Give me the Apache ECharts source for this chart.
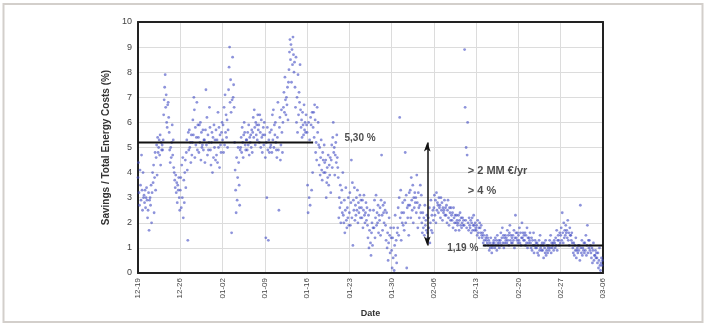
<!DOCTYPE html>
<html>
<head>
<meta charset="utf-8">
<script src="https://cdn.jsdelivr.net/npm/echarts@6/dist/echarts.min.js"></script>
<style>
  html, body { margin: 0; padding: 0; background: #fff; }
  #main { width: 707px; height: 325px; }
</style>
</head>
<body>
<div id="main"></div>
<script>
// week tick labels (one per 7 days)
const weekLabels = ['12-19', '12-26', '01-02', '01-09', '01-16', '01-23', '01-30', '02-06', '02-13', '02-20', '02-27', '03-06'];

// readings: one row per day, 12 samples per day (every 2 h)
const week1 = [
  [3.8, 4.4, 3.2, 2.7, 4.1, 3.5, 2.9, 4.7, 3.3, 2.5, 4.0, 3.0],
  [3.1, 2.8, 3.3, 2.6, 3.0, 3.4, 2.9, 2.2, 2.5, 3.2, 1.7, 2.9],
  [3.0, 2.7, 3.5, 2.0, 3.2, 4.0, 3.6, 4.3, 2.4, 3.8, 4.8, 3.3],
  [4.6, 5.1, 3.9, 5.4, 4.8, 5.0, 5.3, 4.7, 5.5, 4.3, 5.2, 4.9],
  [5.1, 4.9, 5.3, 6.3, 6.9, 7.4, 7.9, 6.6, 7.1, 6.0, 5.8, 6.7],
  [6.8, 6.2, 5.6, 4.9, 4.4, 5.0, 4.6, 5.2, 5.9, 4.7, 5.3, 4.2],
  [4.0, 3.7, 3.4, 3.9, 3.2, 3.6, 2.8, 3.5, 3.3, 3.8, 3.0, 2.5]
];
const week2 = [
  [3.3, 3.8, 2.6, 4.3, 3.0, 4.6, 2.2, 3.7, 2.8, 4.0, 4.5, 3.4],
  [4.8, 5.3, 4.1, 1.3, 5.6, 4.9, 5.7, 5.0, 5.2, 4.4, 5.5, 4.7],
  [5.2, 6.1, 5.5, 7.0, 6.5, 4.6, 5.8, 5.1, 5.4, 6.8, 4.9, 5.9],
  [5.4, 4.8, 5.9, 5.2, 6.0, 4.5, 5.6, 5.0, 5.1, 5.7, 4.9, 5.3],
  [5.3, 4.4, 5.7, 7.3, 5.1, 6.2, 4.7, 5.5, 4.9, 5.2, 6.6, 5.8],
  [4.9, 4.3, 5.2, 5.6, 4.0, 5.4, 4.6, 5.9, 5.0, 5.3, 4.5, 5.7],
  [4.7, 5.3, 4.4, 6.4, 5.0, 5.8, 4.2, 5.5, 5.1, 4.8, 5.6, 6.0]
];
const week3 = [
  [5.3, 5.9, 4.8, 6.6, 5.1, 7.1, 5.6, 6.3, 5.4, 6.1, 5.0, 5.7],
  [7.3, 8.2, 9.0, 6.8, 7.7, 6.4, 1.6, 6.9, 8.6, 7.0, 7.5, 6.6],
  [5.2, 4.1, 3.3, 2.4, 4.6, 2.9, 3.8, 5.0, 4.4, 3.5, 2.7, 4.9],
  [5.0, 5.4, 4.8, 5.8, 5.2, 4.6, 5.5, 6.0, 5.6, 5.1, 4.9, 5.3],
  [5.3, 4.9, 5.6, 5.1, 5.9, 4.7, 5.4, 5.2, 5.5, 5.0, 5.7, 4.8],
  [5.6, 6.2, 5.4, 6.5, 5.8, 5.1, 6.0, 5.5, 5.9, 5.3, 6.3, 5.7],
  [5.9, 5.2, 6.3, 5.6, 5.0, 6.1, 5.4, 4.8, 5.5, 5.8, 5.1, 6.0]
];
const week4 = [
  [5.5, 4.6, 1.4, 5.2, 3.0, 5.8, 4.9, 1.3, 5.3, 4.8, 5.6, 5.0],
  [5.1, 5.7, 4.8, 6.3, 5.3, 6.5, 5.0, 5.9, 5.5, 6.0, 5.2, 4.9],
  [4.6, 5.4, 6.8, 4.9, 2.5, 5.8, 6.2, 4.5, 5.1, 6.5, 5.6, 4.8],
  [6.0, 6.6, 7.2, 6.4, 7.8, 6.9, 6.3, 7.0, 6.7, 7.4, 6.1, 7.6],
  [8.1, 8.8, 9.3, 8.5, 9.1, 7.6, 8.9, 8.3, 9.4, 8.7, 8.0, 8.4],
  [7.4, 6.6, 8.6, 6.0, 7.0, 5.6, 7.9, 6.3, 7.2, 6.8, 8.3, 6.5],
  [5.8, 6.1, 5.4, 6.4, 5.9, 5.5, 6.7, 5.7, 6.0, 5.6, 6.3, 5.9]
];
const week5 = [
  [5.6, 3.5, 2.4, 6.0, 3.0, 5.3, 2.7, 6.2, 5.9, 3.3, 6.4, 4.0],
  [5.8, 6.4, 5.4, 6.7, 6.1, 4.8, 5.2, 4.5, 6.6, 5.6, 6.0, 5.1],
  [4.3, 5.0, 3.9, 4.6, 5.3, 4.1, 3.7, 4.8, 4.5, 4.0, 5.1, 4.4],
  [4.0, 4.5, 3.0, 3.6, 4.2, 3.8, 4.7, 3.5, 4.3, 3.9, 4.6, 3.2],
  [4.5, 5.1, 4.2, 5.4, 6.0, 4.8, 5.0, 3.9, 4.7, 5.2, 4.4, 5.5],
  [4.6, 4.2, 3.8, 2.2, 3.0, 2.6, 3.5, 2.0, 2.8, 3.3, 2.4, 4.0],
  [2.3, 2.0, 2.9, 1.6, 2.5, 3.4, 2.1, 1.8, 2.6, 2.2, 3.0, 1.9]
];
const week6 = [
  [2.4, 3.2, 1.9, 2.8, 4.5, 2.2, 3.6, 1.1, 2.9, 2.5, 3.4, 2.1],
  [2.7, 2.3, 3.0, 2.5, 3.3, 2.0, 2.8, 2.4, 2.6, 3.1, 2.2, 2.9],
  [2.6, 2.2, 2.9, 1.8, 2.5, 3.1, 2.3, 2.0, 2.4, 2.8, 2.1, 2.6],
  [1.9, 1.4, 2.3, 1.0, 1.7, 2.5, 1.2, 0.7, 1.6, 2.0, 1.1, 1.8],
  [2.5, 1.8, 2.9, 1.4, 2.2, 3.1, 1.9, 2.4, 2.0, 2.7, 1.6, 2.3],
  [2.1, 2.6, 1.5, 2.9, 4.7, 2.3, 1.7, 2.7, 2.4, 2.0, 2.8, 2.5],
  [1.9, 1.3, 2.4, 1.0, 1.6, 0.5, 1.2, 2.2, 1.5, 0.8, 1.8, 1.4]
];
const week7 = [
  [0.9, 0.2, 1.4, 0.6, 1.8, 0.1, 1.1, 2.3, 0.7, 1.3, 0.4, 1.6],
  [1.8, 2.6, 1.5, 3.0, 6.2, 2.2, 3.3, 1.3, 2.4, 2.0, 2.8, 1.9],
  [2.4, 1.7, 2.9, 4.8, 2.0, 3.1, 0.2, 2.6, 2.2, 2.7, 1.5, 3.2],
  [2.7, 3.3, 2.2, 3.8, 2.9, 2.5, 3.5, 2.0, 3.0, 2.6, 3.2, 2.8],
  [3.0, 2.4, 3.9, 2.8, 1.8, 3.2, 2.6, 2.2, 2.7, 3.5, 2.4, 3.1],
  [2.0, 1.6, 2.4, 1.8, 2.2, 1.5, 2.7, 1.9, 2.1, 1.7, 2.3, 1.6],
  [1.4, 2.2, 1.8, 2.6, 1.2, 2.0, 2.9, 1.7, 2.3, 1.6, 2.5, 2.1]
];
const week8 = [
  [2.6, 3.1, 2.3, 2.9, 2.0, 3.2, 2.5, 2.8, 2.7, 2.4, 3.0, 2.6],
  [2.7, 2.2, 3.0, 2.5, 2.8, 2.1, 2.6, 2.4, 2.5, 2.9, 2.3, 2.6],
  [2.3, 2.7, 2.0, 2.5, 2.9, 2.2, 1.9, 2.6, 2.4, 2.1, 2.6, 2.3],
  [2.1, 2.4, 1.8, 2.6, 2.2, 2.0, 2.3, 1.7, 2.0, 2.3, 2.1, 1.9],
  [2.0, 2.3, 1.7, 2.1, 2.4, 1.9, 2.2, 1.8, 2.0, 2.2, 1.9, 2.1],
  [1.9, 8.9, 6.6, 2.1, 5.0, 1.8, 4.7, 6.0, 2.0, 1.7, 2.2, 1.9],
  [1.8, 2.1, 1.6, 2.0, 2.2, 1.7, 1.9, 2.3, 1.9, 1.7, 2.0, 1.8]
];
const week9 = [
  [1.7, 1.9, 1.5, 2.1, 1.6, 1.8, 1.4, 2.0, 1.8, 1.6, 1.9, 1.5],
  [1.4, 1.6, 1.2, 1.5, 1.3, 1.7, 1.1, 1.4, 1.3, 1.5, 1.2, 1.4],
  [1.1, 1.3, 0.9, 1.2, 1.0, 1.4, 1.1, 0.8, 1.0, 1.2, 1.1, 1.3],
  [1.2, 1.0, 1.4, 1.1, 1.3, 0.9, 1.5, 1.2, 1.1, 1.3, 1.0, 1.2],
  [1.3, 1.6, 1.1, 1.4, 1.8, 1.2, 1.5, 1.0, 1.4, 1.2, 1.5, 1.3],
  [1.4, 1.2, 1.7, 1.3, 1.5, 1.1, 1.6, 1.9, 1.3, 1.5, 1.2, 1.4],
  [1.2, 1.5, 1.3, 1.7, 1.0, 1.4, 2.3, 1.6, 1.4, 1.3, 1.6, 1.2]
];
const week10 = [
  [1.5, 1.3, 1.8, 1.2, 1.6, 1.1, 1.4, 2.0, 1.4, 1.6, 1.3, 1.5],
  [1.3, 1.6, 1.1, 1.5, 1.2, 1.8, 1.0, 1.4, 1.2, 1.4, 1.3, 1.6],
  [1.2, 1.0, 1.4, 0.9, 1.3, 1.1, 1.6, 0.8, 1.1, 1.3, 1.0, 1.2],
  [1.0, 1.2, 0.8, 1.1, 0.7, 1.3, 0.9, 1.5, 1.0, 1.1, 0.9, 1.2],
  [0.9, 1.1, 0.6, 1.2, 1.0, 0.8, 1.3, 0.7, 0.9, 1.1, 0.8, 1.0],
  [1.1, 0.9, 1.3, 1.0, 1.5, 0.8, 1.2, 1.0, 1.1, 1.2, 0.9, 1.3],
  [1.2, 1.0, 1.4, 1.1, 1.7, 0.9, 1.3, 1.5, 1.3, 1.1, 1.6, 1.2]
];
const week11 = [
  [1.5, 1.8, 1.3, 2.4, 1.6, 1.2, 2.0, 1.4, 1.7, 1.5, 1.9, 1.6],
  [1.7, 1.4, 2.1, 1.3, 1.6, 1.1, 1.8, 1.5, 1.5, 1.3, 1.6, 1.2],
  [1.0, 0.8, 1.2, 0.7, 1.1, 0.9, 1.4, 0.6, 0.9, 1.0, 0.8, 1.1],
  [0.9, 1.1, 0.5, 2.7, 1.0, 0.8, 1.3, 0.7, 1.0, 0.9, 1.2, 0.8],
  [1.2, 0.9, 1.5, 0.7, 1.1, 1.9, 0.8, 1.3, 1.0, 1.3, 0.9, 1.1],
  [0.8, 0.6, 1.0, 0.4, 0.9, 1.2, 0.5, 0.7, 0.7, 0.9, 0.6, 0.8],
  [0.6, 0.4, 0.8, 0.2, 0.5, 1.0, 0.3, 0.1, 0.4, 0.6, 0.3, 0.5]
];

// reference levels and annotations (x in days from 12-19, y in %)
const levelBefore = [[0, 5.2], [29, 5.2]];
const levelAfter = [[57.1, 1.1], [77, 1.1]];
const gapArrow = [[47.9, 5.2], [47.9, 1.1]];
const notes = [
  [34.2, 5.35, '5,30 %'],
  [54.6, 4.05, '> 2 MM €/yr'],
  [54.6, 3.25, '> 4 %'],
  [51.2, 1.0, '1,19 %']
];

const weeks = [week1, week2, week3, week4, week5, week6, week7, week8, week9, week10, week11];
const points = [];
weeks.forEach(function (week, w) {
  week.forEach(function (day, d) {
    day.forEach(function (v, s) {
      points.push([w * 7 + d + s / day.length, v]);
    });
  });
});

const frameAxis = {
  axisLine: { show: true, onZero: false, lineStyle: { color: '#222', width: 2 } },
  axisTick: { show: false },
  axisLabel: { show: false },
  splitLine: { show: false }
};

window.onload = function () {
  const dom = document.getElementById('main');
  const myChart = echarts.init(dom);
  const option = {
    animation: false,
    textStyle: { fontFamily: 'Liberation Sans, Arial, sans-serif' },
    graphic: [{
      type: 'rect',
      shape: { x: 3.5, y: 4, width: 699, height: 318 },
      style: { fill: 'none', stroke: '#d3cfcb', lineWidth: 2 },
      silent: true
    }],
    grid: { left: 138, right: 104, top: 22, bottom: 52 },
    xAxis: [{
      type: 'value', min: 0, max: 77, interval: 7,
      name: 'Date', nameLocation: 'middle', nameGap: 36,
      nameTextStyle: { fontSize: 9, fontWeight: 'bold', color: '#333' },
      axisLine: { show: true, onZero: false, lineStyle: { color: '#222', width: 2 } },
      axisTick: { show: false },
      axisLabel: {
        rotate: 90, fontSize: 8, color: '#444', margin: 5,
        formatter: function (v) { return weekLabels[Math.round(v / 7)]; }
      },
      splitLine: { lineStyle: { color: '#dcdcdc' } }
    }, Object.assign({ type: 'value', min: 0, max: 77, position: 'top' }, frameAxis)],
    yAxis: [{
      type: 'value', min: 0, max: 10, interval: 1,
      name: 'Savings / Total Energy Costs (%)', nameLocation: 'middle', nameGap: 11,
      nameTextStyle: { fontSize: 10, fontWeight: 'bold', color: '#333' },
      axisLine: { show: true, onZero: false, lineStyle: { color: '#222', width: 2 } },
      axisTick: { show: false },
      axisLabel: { fontSize: 9, color: '#444', margin: 6 },
      splitLine: { lineStyle: { color: '#dcdcdc' } }
    }, Object.assign({ type: 'value', min: 0, max: 10, position: 'right' }, frameAxis)],
    series: [
      {
        type: 'scatter', data: points, symbolSize: 2.8,
        itemStyle: { color: 'rgba(65,75,195,0.75)' }
      },
      {
        type: 'line', data: levelBefore, symbol: 'none',
        lineStyle: { color: '#111', width: 2 }
      },
      {
        type: 'line', data: levelAfter, symbol: 'none',
        lineStyle: { color: '#111', width: 2 }
      },
      {
        type: 'line', data: [], symbol: 'none',
        markLine: {
          silent: true, symbol: ['arrow', 'arrow'], symbolSize: [5, 9],
          label: { show: false },
          lineStyle: { color: '#111', width: 1.5, type: 'solid' },
          data: [[{ coord: gapArrow[0] }, { coord: gapArrow[1] }]]
        }
      },
      {
        type: 'scatter', data: notes.slice(0, 1).concat(notes.slice(3)), symbolSize: 0,
        label: {
          show: true, position: 'right', distance: 0,
          fontSize: 10, fontWeight: 'bold', color: '#222',
          formatter: function (p) { return p.data[2]; }
        }
      },
      {
        type: 'scatter', data: notes.slice(1, 3), symbolSize: 0,
        label: {
          show: true, position: 'right', distance: 0,
          fontSize: 11, fontWeight: 'bold', color: '#222',
          formatter: function (p) { return p.data[2]; }
        }
      }
    ]
  };
  myChart.setOption(option, true);
};
</script>
</body>
</html>
